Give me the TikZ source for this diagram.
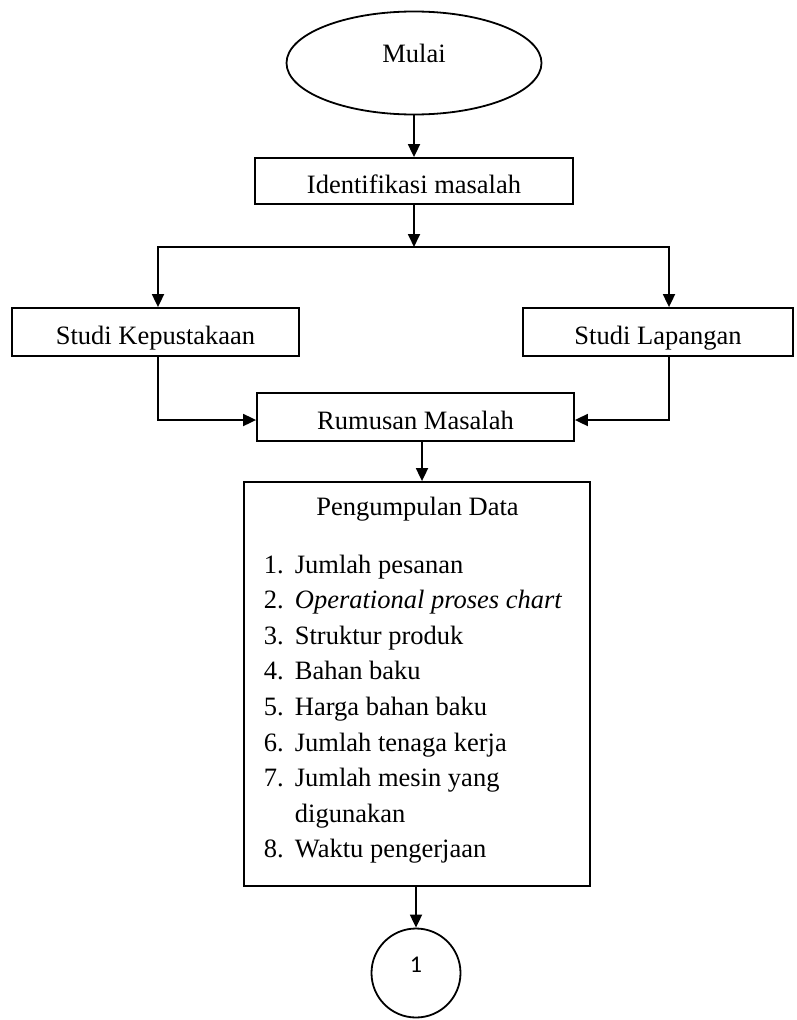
\documentclass[tikz,border=0pt]{standalone}
\usepackage{fontspec}
\setmainfont{Liberation Serif}
\newfontfamily\carlitofont{Carlito}
\usetikzlibrary{shapes.geometric,arrows.meta}
\begin{document}
\begin{tikzpicture}[x=1pt,y=-1pt,
  font=\fontsize{26.5}{35.6}\selectfont,
  line width=1.8pt,
  boxnode/.style={draw, rectangle, inner sep=0pt, text height=24pt, text depth=0pt},
  arr/.style={-{Triangle[length=13pt,width=12pt]}}]
\fill[white] (0,0) rectangle (796,1020);
\useasboundingbox (0,0) rectangle (796,1020);

\node[draw, ellipse, minimum width=255pt, minimum height=103pt, inner sep=0pt,
      text height=18pt, text depth=20pt] (start) at (414,63) {Mulai};
\node[boxnode, minimum width=318pt, minimum height=46pt] (ident) at (414,181) {Identifikasi masalah};
\node[boxnode, minimum width=287pt, minimum height=48pt] (kep) at (155.5,332) {Studi Kepustakaan};
\node[boxnode, minimum width=270pt, minimum height=48pt] (lap) at (658,332) {Studi Lapangan};
\node[boxnode, minimum width=317pt, minimum height=48pt] (rm) at (415.5,417) {Rumusan Masalah};
\node[draw, rectangle, minimum width=346pt, minimum height=404pt] (pd) at (417,684) {};
\node[anchor=base] (pdtitle) at (417.5,515) {Pengumpulan Data};
\node[anchor=base west, inner sep=0pt] (pdlist) at (263,573) {\begin{tabular}[t]{@{}l@{}}
\makebox[31pt][l]{1.}Jumlah pesanan\\
\makebox[31pt][l]{2.}\textit{Operational proses chart}\\
\makebox[31pt][l]{3.}Struktur produk\\
\makebox[31pt][l]{4.}Bahan baku\\
\makebox[31pt][l]{5.}Harga bahan baku\\
\makebox[31pt][l]{6.}Jumlah tenaga kerja\\
\makebox[31pt][l]{7.}Jumlah mesin yang\\
\hspace*{31pt}digunakan\\
\makebox[31pt][l]{8.}Waktu pengerjaan
\end{tabular}};
\node[draw, circle, minimum size=89pt, inner sep=0pt,
      font=\carlitofont\fontsize{24}{28}\selectfont,
      text height=16pt, text depth=18pt] (conn) at (416,973) {1};

\coordinate (jl) at (158,247);
\coordinate (jm) at (414,247);
\coordinate (jr) at (669,247);
\coordinate (kl) at (158,420);
\coordinate (kr) at (669,420);
\coordinate (rp) at (422,0);

\draw[arr] (start) -- (ident);
\draw[arr] (ident) -- (jm);
\draw[arr] (jm) -- (jl) -- (jl |- kep.north);
\draw[arr] (jm) -- (jr) -- (jr |- lap.north);
\draw[arr] (jl |- kep.south) -- (kl) -- (kl -| rm.west);
\draw[arr] (jr |- lap.south) -- (kr) -- (kr -| rm.east);
\draw[arr] (rp |- rm.south) -- (rp |- pd.north);
\draw[arr] (conn |- pd.south) -- (conn.north);
\end{tikzpicture}
\end{document}
